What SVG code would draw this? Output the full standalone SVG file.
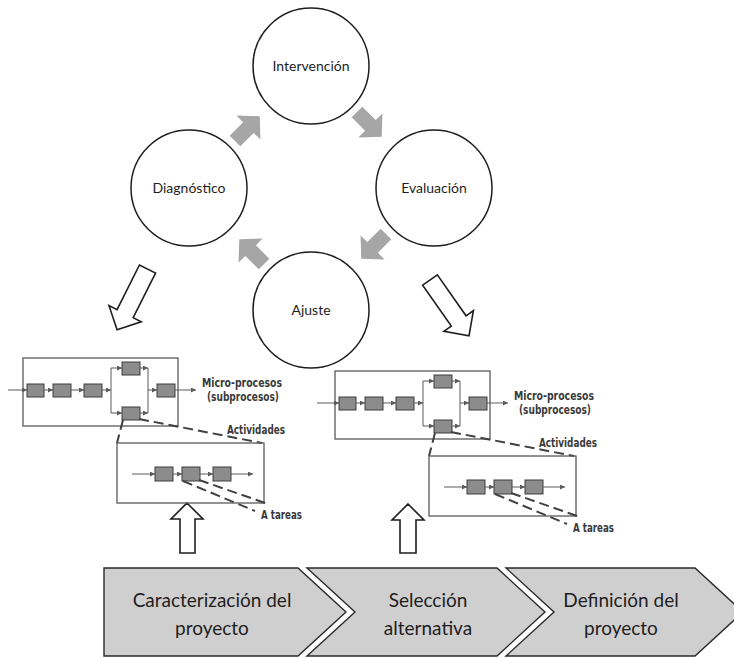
<svg xmlns="http://www.w3.org/2000/svg" xmlns:xlink="http://www.w3.org/1999/xlink" width="734" height="658" viewBox="0 0 734 658">
  <style>
    .circle { fill: #ffffff; stroke: #1e1e1e; stroke-width: 1.5; }
    .ctext { font-family: Lato, "Open Sans", sans-serif; font-size: 14px; fill: #1e1e1e; text-anchor: middle; }
    .cycle { fill: #a6a6a6; }
    .hollow { fill: #ffffff; stroke: #1e1e1e; stroke-width: 1.6; stroke-linejoin: miter; }
    .frame { fill: none; stroke: #5a5a5a; stroke-width: 1.3; }
    .flow { fill: none; stroke: #5a5a5a; stroke-width: 1; }
    .step { fill: #8c8c8c; stroke: #3c3c3c; stroke-width: 1; }
    .dash { fill: none; stroke: #404040; stroke-width: 2; stroke-dasharray: 10 5; }
    .lbl { font-family: "DejaVu Sans Condensed", "DejaVu Sans", sans-serif; font-stretch: condensed; font-weight: bold; font-size: 12px; fill: #3a3a3a; }
    .chev { fill: #d0cfcf; stroke: #2a2a2a; stroke-width: 1.4; stroke-linejoin: miter; }
    .vtext { font-family: Lato, "Open Sans", sans-serif; font-size: 19px; fill: #1e1e1e; text-anchor: middle; }
  </style>
  <defs>
    <marker id="tip" viewBox="0 0 6 6" refX="6" refY="3" markerWidth="5" markerHeight="5" markerUnits="userSpaceOnUse" orient="auto">
      <path d="M0,0 L6,3 L0,6 z" fill="#5a5a5a"/>
    </marker>
    <!-- chunky grey cycle arrow, pointing along +x, centred on the origin -->
    <polygon id="cycleArrow" class="cycle" points="-17,-7.5 2,-7.5 2,-17 18,0 2,17 2,7.5 -17,7.5"/>
    <!-- outlined arrow, pointing along +x, starting at the origin -->
    <polygon id="bigArrow" class="hollow" points="0,-9 50,-9 50,-18 68,0 50,18 50,9 0,9"/>
  </defs>

  <!-- cycle nodes -->
  <g id="intervencion">
    <circle class="circle" cx="311" cy="66" r="58"/>
    <text class="ctext" x="311" y="71">Intervención</text>
  </g>
  <g id="diagnostico">
    <circle class="circle" cx="189" cy="188" r="58"/>
    <text class="ctext" x="189" y="193">Diagnóstico</text>
  </g>
  <g id="evaluacion">
    <circle class="circle" cx="434" cy="188" r="58"/>
    <text class="ctext" x="434" y="193">Evaluación</text>
  </g>
  <g id="ajuste">
    <circle class="circle" cx="311" cy="310" r="58"/>
    <text class="ctext" x="311" y="315">Ajuste</text>
  </g>

  <!-- connectors -->
  <g id="connectors">
    <use xlink:href="#cycleArrow" transform="translate(247,129) rotate(-45)"/>
    <use xlink:href="#cycleArrow" transform="translate(369,124) rotate(45)"/>
    <use xlink:href="#cycleArrow" transform="translate(374,246) rotate(135)"/>
    <use xlink:href="#cycleArrow" transform="translate(252,252) rotate(-135)"/>
    <use xlink:href="#bigArrow" transform="translate(147.5,269) rotate(116.6)"/>
    <use xlink:href="#bigArrow" transform="translate(430,280) rotate(55)"/>
    <polygon class="hollow" points="187,503 203,519 195,519 195,553 180,553 180,519 171,519"/>
    <polygon class="hollow" points="408,504 424,520 416,520 416,553 400,553 400,520 392,520"/>
  </g>

  <!-- process breakdown (left) -->
  <g id="proceso-izq">
    <rect class="frame" x="23" y="358" width="155" height="68"/>
    <line class="flow" x1="8" y1="390" x2="27" y2="390" marker-end="url(#tip)"/>
    <rect class="step" x="27" y="384" width="17" height="13"/>
    <line class="flow" x1="44" y1="390" x2="53" y2="390" marker-end="url(#tip)"/>
    <rect class="step" x="53" y="384" width="18" height="13"/>
    <line class="flow" x1="71" y1="390" x2="84" y2="390" marker-end="url(#tip)"/>
    <rect class="step" x="84" y="384" width="18" height="13"/>
    <line class="flow" x1="102" y1="390" x2="111" y2="390" marker-end="url(#tip)"/>
    <line class="flow" x1="111" y1="368" x2="111" y2="413"/>
    <line class="flow" x1="111" y1="368" x2="122" y2="368" marker-end="url(#tip)"/>
    <line class="flow" x1="111" y1="413" x2="122" y2="413" marker-end="url(#tip)"/>
    <rect class="step" x="122" y="362" width="18" height="13"/>
    <rect class="step" x="122" y="407" width="18" height="13"/>
    <line class="flow" x1="140" y1="368" x2="148" y2="368" marker-end="url(#tip)"/>
    <line class="flow" x1="140" y1="413" x2="148" y2="413" marker-end="url(#tip)"/>
    <line class="flow" x1="148" y1="368" x2="148" y2="413"/>
    <line class="flow" x1="148" y1="390" x2="157" y2="390" marker-end="url(#tip)"/>
    <rect class="step" x="157" y="384" width="18" height="13"/>
    <line class="flow" x1="175" y1="390" x2="196" y2="390" marker-end="url(#tip)"/>
    <text class="lbl" x="202" y="387" textLength="80" lengthAdjust="spacingAndGlyphs">Micro-procesos</text>
    <text class="lbl" x="207" y="401" textLength="72" lengthAdjust="spacingAndGlyphs">(subprocesos)</text>
    <line class="dash" x1="123" y1="420" x2="117" y2="443"/>
    <line class="dash" x1="139" y1="419" x2="262" y2="443"/>
    <text class="lbl" x="227" y="434" textLength="58" lengthAdjust="spacingAndGlyphs">Actividades</text>
    <rect class="frame" x="117" y="443" width="147" height="60"/>
    <line class="flow" x1="132" y1="474" x2="155" y2="474" marker-end="url(#tip)"/>
    <rect class="step" x="155" y="467" width="18" height="14"/>
    <line class="flow" x1="173" y1="474" x2="182" y2="474" marker-end="url(#tip)"/>
    <rect class="step" x="182" y="467" width="18" height="14"/>
    <line class="flow" x1="200" y1="474" x2="213" y2="474" marker-end="url(#tip)"/>
    <rect class="step" x="213" y="467" width="18" height="14"/>
    <line class="flow" x1="231" y1="474" x2="253" y2="474" marker-end="url(#tip)"/>
    <line class="dash" x1="183" y1="481" x2="255" y2="511"/>
    <line class="dash" x1="199" y1="480" x2="268" y2="504"/>
    <text class="lbl" x="261" y="519" textLength="41" lengthAdjust="spacingAndGlyphs">A tareas</text>
  </g>

  <!-- process breakdown (right) -->
  <g id="proceso-der" transform="translate(312,13)">
    <rect class="frame" x="23" y="358" width="155" height="68"/>
    <line class="flow" x1="5" y1="390" x2="27" y2="390" marker-end="url(#tip)"/>
    <rect class="step" x="27" y="384" width="17" height="13"/>
    <line class="flow" x1="44" y1="390" x2="53" y2="390" marker-end="url(#tip)"/>
    <rect class="step" x="53" y="384" width="18" height="13"/>
    <line class="flow" x1="71" y1="390" x2="84" y2="390" marker-end="url(#tip)"/>
    <rect class="step" x="84" y="384" width="18" height="13"/>
    <line class="flow" x1="102" y1="390" x2="111" y2="390" marker-end="url(#tip)"/>
    <line class="flow" x1="111" y1="368" x2="111" y2="413"/>
    <line class="flow" x1="111" y1="368" x2="122" y2="368" marker-end="url(#tip)"/>
    <line class="flow" x1="111" y1="413" x2="122" y2="413" marker-end="url(#tip)"/>
    <rect class="step" x="122" y="362" width="18" height="13"/>
    <rect class="step" x="122" y="407" width="18" height="13"/>
    <line class="flow" x1="140" y1="368" x2="148" y2="368" marker-end="url(#tip)"/>
    <line class="flow" x1="140" y1="413" x2="148" y2="413" marker-end="url(#tip)"/>
    <line class="flow" x1="148" y1="368" x2="148" y2="413"/>
    <line class="flow" x1="148" y1="390" x2="157" y2="390" marker-end="url(#tip)"/>
    <rect class="step" x="157" y="384" width="18" height="13"/>
    <line class="flow" x1="175" y1="390" x2="196" y2="390" marker-end="url(#tip)"/>
    <text class="lbl" x="202" y="387" textLength="80" lengthAdjust="spacingAndGlyphs">Micro-procesos</text>
    <text class="lbl" x="207" y="401" textLength="72" lengthAdjust="spacingAndGlyphs">(subprocesos)</text>
    <line class="dash" x1="123" y1="420" x2="117" y2="443"/>
    <line class="dash" x1="139" y1="419" x2="262" y2="443"/>
    <text class="lbl" x="227" y="434" textLength="58" lengthAdjust="spacingAndGlyphs">Actividades</text>
    <rect class="frame" x="117" y="443" width="147" height="60"/>
    <line class="flow" x1="132" y1="474" x2="155" y2="474" marker-end="url(#tip)"/>
    <rect class="step" x="155" y="467" width="18" height="14"/>
    <line class="flow" x1="173" y1="474" x2="182" y2="474" marker-end="url(#tip)"/>
    <rect class="step" x="182" y="467" width="18" height="14"/>
    <line class="flow" x1="200" y1="474" x2="213" y2="474" marker-end="url(#tip)"/>
    <rect class="step" x="213" y="467" width="18" height="14"/>
    <line class="flow" x1="231" y1="474" x2="253" y2="474" marker-end="url(#tip)"/>
    <line class="dash" x1="183" y1="481" x2="255" y2="511"/>
    <line class="dash" x1="199" y1="480" x2="268" y2="504"/>
    <text class="lbl" x="261" y="519" textLength="41" lengthAdjust="spacingAndGlyphs">A tareas</text>
  </g>

  <!-- project phases -->
  <g id="fase-caracterizacion">
    <polygon class="chev" points="104,568 298,568 346,612 298,656 104,656"/>
    <text class="vtext" x="212" y="607">Caracterización del</text>
    <text class="vtext" x="212" y="635">proyecto</text>
  </g>
  <g id="fase-seleccion">
    <polygon class="chev" points="307,568 497,568 545,612 497,656 307,656 355,612"/>
    <text class="vtext" x="428" y="607">Selección</text>
    <text class="vtext" x="428" y="635">alternativa</text>
  </g>
  <g id="fase-definicion">
    <polygon class="chev" points="506,568 695,568 743,612 695,656 506,656 554,612"/>
    <text class="vtext" x="621" y="607">Definición del</text>
    <text class="vtext" x="621" y="635">proyecto</text>
  </g>
</svg>
